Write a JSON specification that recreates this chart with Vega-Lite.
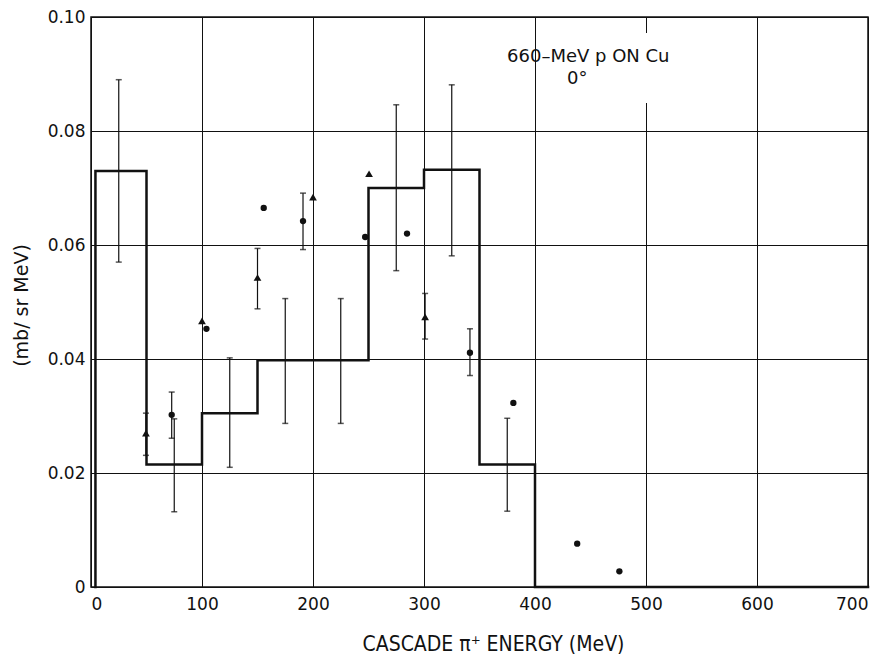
{
  "$schema": "https://vega.github.io/schema/vega-lite/v6.json",
  "autosize": "none",
  "width": 777,
  "height": 570,
  "padding": {"left": 91, "top": 17, "right": 23, "bottom": 78},
  "background": "white",
  "config": {
    "view": {"stroke": "#111", "strokeWidth": 1.5},
    "font": "DejaVu Sans",
    "axis": {
      "grid": true, "gridColor": "#111", "gridOpacity": 1, "gridWidth": 1,
      "ticks": false, "domain": false,
      "labelFont": "DejaVu Sans", "labelFontSize": 17, "labelColor": "#111",
      "titleFont": "DejaVu Sans Condensed", "titleFontWeight": "normal", "titleColor": "#111"
    }
  },
  "datasets": {
    "hist": [
      {"order": 1, "e": 4, "v": 0},
      {"order": 2, "e": 4, "v": 0.073},
      {"order": 3, "e": 50, "v": 0.073},
      {"order": 4, "e": 50, "v": 0.0215},
      {"order": 5, "e": 100, "v": 0.0215},
      {"order": 6, "e": 100, "v": 0.0305},
      {"order": 7, "e": 150, "v": 0.0305},
      {"order": 8, "e": 150, "v": 0.0398},
      {"order": 9, "e": 250, "v": 0.0398},
      {"order": 10, "e": 250, "v": 0.0700},
      {"order": 11, "e": 300, "v": 0.0700},
      {"order": 12, "e": 300, "v": 0.0732},
      {"order": 13, "e": 350, "v": 0.0732},
      {"order": 14, "e": 350, "v": 0.0215},
      {"order": 15, "e": 400, "v": 0.0215},
      {"order": 16, "e": 400, "v": 0},
      {"order": 17, "e": 700, "v": 0}
    ],
    "points": [
      {"kind": "calc", "e": 25, "v": 0.073, "lo": 0.057, "hi": 0.089},
      {"kind": "calc", "e": 75, "v": 0.0215, "lo": 0.0132, "hi": 0.0295},
      {"kind": "calc", "e": 125, "v": 0.0305, "lo": 0.021, "hi": 0.0402},
      {"kind": "calc", "e": 175, "v": 0.0398, "lo": 0.0287, "hi": 0.0506},
      {"kind": "calc", "e": 225, "v": 0.0398, "lo": 0.0287, "hi": 0.0506},
      {"kind": "calc", "e": 275, "v": 0.07, "lo": 0.0555, "hi": 0.0846},
      {"kind": "calc", "e": 325, "v": 0.0732, "lo": 0.0581, "hi": 0.0881},
      {"kind": "calc", "e": 375, "v": 0.0215, "lo": 0.0133, "hi": 0.0296},
      {"kind": "triangle", "e": 49.5, "v": 0.027, "lo": 0.0231, "hi": 0.0305},
      {"kind": "triangle", "e": 100, "v": 0.0467},
      {"kind": "triangle", "e": 150, "v": 0.0543, "lo": 0.0488, "hi": 0.0594},
      {"kind": "triangle", "e": 200, "v": 0.0684},
      {"kind": "triangle", "e": 250.5, "v": 0.0725},
      {"kind": "triangle", "e": 301, "v": 0.0474, "lo": 0.0435, "hi": 0.0515},
      {"kind": "circle", "e": 72.7, "v": 0.0302, "lo": 0.0261, "hi": 0.0342},
      {"kind": "circle", "e": 104, "v": 0.0453},
      {"kind": "circle", "e": 155.6, "v": 0.0665},
      {"kind": "circle", "e": 191, "v": 0.0642, "lo": 0.0592, "hi": 0.0691},
      {"kind": "circle", "e": 247, "v": 0.0614},
      {"kind": "circle", "e": 284.7, "v": 0.062},
      {"kind": "circle", "e": 341.4, "v": 0.0411, "lo": 0.0371, "hi": 0.0453},
      {"kind": "circle", "e": 380.5, "v": 0.0323},
      {"kind": "circle", "e": 438, "v": 0.0076},
      {"kind": "circle", "e": 476, "v": 0.00275}
    ],
    "note": [{"label": "660–MeV p ON Cu", "angle": "0°"}]
  },
  "layer": [
    {
      "data": {"name": "hist"},
      "mark": {"type": "line", "color": "#111", "strokeWidth": 2.5, "strokeJoin": "miter", "strokeCap": "square"},
      "encoding": {
        "x": {
          "field": "e", "type": "quantitative",
          "scale": {"domain": [0, 700], "nice": false, "zero": false},
          "axis": {
            "values": [0, 100, 200, 300, 400, 500, 600, 700],
            "labelPadding": 9,
            "title": "CASCADE π⁺ ENERGY (MeV)",
            "titleFontSize": 21, "titleBaseline": "middle", "titleY": 57, "titleX": 402, "titleAlign": "center"
          }
        },
        "y": {
          "field": "v", "type": "quantitative",
          "scale": {"domain": [0, 0.1], "nice": false},
          "axis": {
            "values": [0, 0.02, 0.04, 0.06, 0.08, 0.1],
            "labelExpr": "datum.value == 0 ? '0' : format(datum.value, '.2f')",
            "labelPadding": 6,
            "title": "(mb/ sr MeV)",
            "titleFont": "DejaVu Sans", "titleFontSize": 19,
            "titleBaseline": "middle", "titleX": -70, "titleY": 288
          }
        },
        "order": {"field": "order", "type": "quantitative"}
      }
    },
    {
      "data": {"name": "note"},
      "mark": {"type": "rect", "color": "white"},
      "encoding": {
        "x": {"datum": 494, "type": "quantitative"}, "x2": {"datum": 506},
        "y": {"datum": 0.0849, "type": "quantitative"}, "y2": {"datum": 0.0972}
      }
    },
    {
      "data": {"name": "note"},
      "mark": {"type": "text", "fontSize": 18, "color": "#111", "baseline": "middle"},
      "encoding": {
        "x": {"datum": 448, "type": "quantitative"}, "y": {"datum": 0.093, "type": "quantitative"},
        "text": {"field": "label", "type": "nominal"}
      }
    },
    {
      "data": {"name": "note"},
      "mark": {"type": "text", "fontSize": 18, "color": "#111", "baseline": "middle"},
      "encoding": {
        "x": {"datum": 438, "type": "quantitative"}, "y": {"datum": 0.0891, "type": "quantitative"},
        "text": {"field": "angle", "type": "nominal"}
      }
    },
    {
      "data": {"name": "points"},
      "transform": [{"filter": "isValid(datum.lo)"}],
      "mark": {"type": "errorbar", "color": "#111", "thickness": 1.2, "ticks": {"size": 6, "thickness": 1.5, "color": "#111"}},
      "encoding": {
        "x": {"field": "e", "type": "quantitative"},
        "y": {"field": "lo", "type": "quantitative", "title": "(mb/ sr MeV)"},
        "y2": {"field": "hi"}
      }
    },
    {
      "data": {"name": "points"},
      "transform": [{"filter": "datum.kind != 'calc'"}],
      "mark": {"type": "point", "filled": true, "opacity": 1, "color": "#111"},
      "encoding": {
        "x": {"field": "e", "type": "quantitative"},
        "y": {"field": "v", "type": "quantitative"},
        "shape": {"field": "kind", "type": "nominal", "scale": {"domain": ["circle", "triangle"], "range": ["circle", "triangle-up"]}, "legend": null},
        "size": {"field": "kind", "type": "nominal", "scale": {"domain": ["circle", "triangle"], "range": [40, 60]}, "legend": null}
      }
    }
  ]
}
